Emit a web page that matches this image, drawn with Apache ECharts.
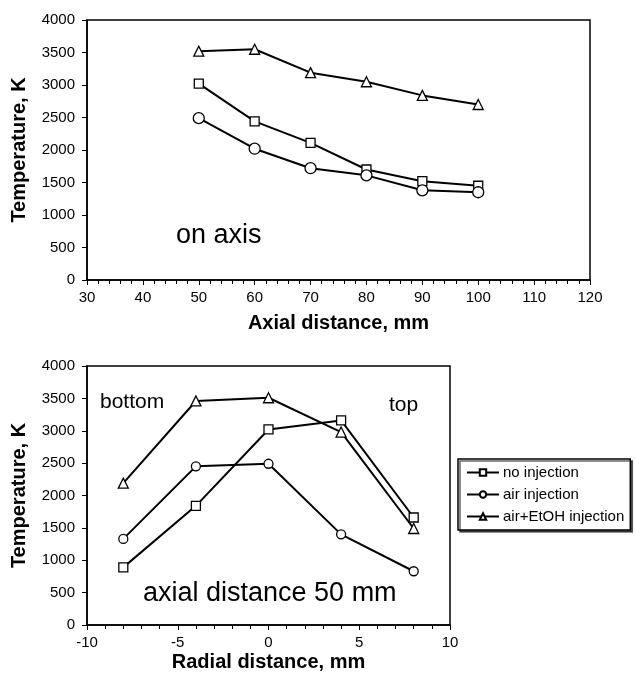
<!DOCTYPE html>
<html>
<head>
<meta charset="utf-8">
<script src="https://cdn.jsdelivr.net/npm/echarts@6/dist/echarts.min.js"></script>
<style>
  html, body { margin: 0; padding: 0; background: #fff; }
  #chart { width: 636px; height: 679px; }
</style>
</head>
<body>
<div id="chart"></div>
<script>
// Temperature profiles: along the axis (upper plot) and across the jet at 50 mm (lower plot)
const axialDist = [50, 60, 70, 80, 90, 100];
const axialNoInj = [3020, 2440, 2110, 1700, 1520, 1450];
const axialAirInj = [2490, 2020, 1720, 1610, 1380, 1350];
const axialEtOH = [3520, 3550, 3190, 3050, 2840, 2700];

const radialDist = [-8, -4, 0, 4, 8];
const radialNoInj = [890, 1840, 3020, 3160, 1660];
const radialAirInj = [1330, 2450, 2490, 1400, 830];
const radialEtOH = [2190, 3460, 3510, 2980, 1490];

const seriesNames = ['no injection', 'air injection', 'air+EtOH injection'];
const tempTicks = { min: 0, max: 4000, interval: 500 };

const FONT = '"Liberation Sans", Arial, sans-serif';
const chart = echarts.init(document.getElementById('chart'), null, { renderer: 'canvas' });

function pairs(xs, ys) { return xs.map((x, i) => [x, ys[i]]); }

function xAxisDef(gridIndex, min, max, interval, name, nameGap) {
  return {
    type: 'value', gridIndex, min, max, interval,
    name, nameLocation: 'middle', nameGap,
    nameTextStyle: { fontFamily: FONT, fontSize: 20, fontWeight: 'bold', color: '#000' },
    axisLine: { show: true, onZero: false, lineStyle: { color: '#000', width: 1.5 } },
    axisTick: { show: true, length: 5, lineStyle: { color: '#000', width: 1 } },
    minorTick: { show: true, splitNumber: 5, length: 4, lineStyle: { color: '#000', width: 1 } },
    axisLabel: { fontFamily: FONT, fontSize: 15, color: '#000', margin: 10, formatter: v => String(v) },
    splitLine: { show: false }
  };
}

function yAxisDef(gridIndex) {
  return {
    type: 'value', gridIndex, min: tempTicks.min, max: tempTicks.max, interval: tempTicks.interval,
    name: 'Temperature, K', nameLocation: 'middle', nameGap: 58,
    nameTextStyle: { fontFamily: FONT, fontSize: 20, fontWeight: 'bold', color: '#000' },
    axisLine: { show: true, onZero: false, lineStyle: { color: '#000', width: 1.5 } },
    axisTick: { show: true, length: 5, lineStyle: { color: '#000', width: 1 } },
    axisLabel: { fontFamily: FONT, fontSize: 15, color: '#000', margin: 12, formatter: v => String(v) },
    splitLine: { show: false }
  };
}

function lineSeries(name, idx, data, symbol, size) {
  return {
    name, type: 'line', xAxisIndex: idx, yAxisIndex: idx, data,
    symbol, symbolSize: size, showAllSymbol: true,
    lineStyle: { color: '#000', width: 2 },
    itemStyle: { color: '#fff', borderColor: '#000', borderWidth: 1.3 },
    emphasis: { disabled: true },
    animation: false, z: 3
  };
}

const option = {
  backgroundColor: '#fff',
  animation: false,
  grid: [
    { left: 87, top: 20, width: 503, height: 260, show: true, borderColor: '#000', borderWidth: 1.5, backgroundColor: 'transparent' },
    { left: 87, top: 366, width: 363, height: 259, show: true, borderColor: '#000', borderWidth: 1.5, backgroundColor: 'transparent' }
  ],
  xAxis: [
    xAxisDef(0, 30, 120, 10, 'Axial distance, mm', 33),
    xAxisDef(1, -10, 10, 5, 'Radial distance, mm', 27)
  ],
  yAxis: [yAxisDef(0), yAxisDef(1)],
  legend: {
    data: seriesNames,
    orient: 'vertical',
    left: 458, top: 459,
    padding: [6, 6, 6, 8],
    itemWidth: 32, itemHeight: 8, itemGap: 7,
    borderColor: '#000', borderWidth: 1.5,
    backgroundColor: '#fff',
    shadowColor: 'rgba(0,0,0,0.6)', shadowOffsetX: 2, shadowOffsetY: 2, shadowBlur: 0,
    textStyle: { fontFamily: FONT, fontSize: 15, color: '#000', padding: [0, 0, 0, -1] },
    selectedMode: false
  },
  graphic: [
    { type: 'text', left: 176, top: 222, style: { text: 'on axis', font: '27px ' + FONT, fill: '#000' } },
    { type: 'text', left: 143, top: 580, style: { text: 'axial distance 50 mm', font: '27px ' + FONT, fill: '#000' } },
    { type: 'text', left: 100, top: 392, style: { text: 'bottom', font: '21px ' + FONT, fill: '#000' } },
    { type: 'text', left: 389, top: 395, style: { text: 'top', font: '21px ' + FONT, fill: '#000' } }
  ],
  series: [
    lineSeries(seriesNames[0], 0, pairs(axialDist, axialNoInj), 'rect', 9),
    lineSeries(seriesNames[1], 0, pairs(axialDist, axialAirInj), 'circle', 11),
    lineSeries(seriesNames[2], 0, pairs(axialDist, axialEtOH), 'triangle', 10),
    lineSeries(seriesNames[0], 1, pairs(radialDist, radialNoInj), 'rect', 9),
    lineSeries(seriesNames[1], 1, pairs(radialDist, radialAirInj), 'circle', 9),
    lineSeries(seriesNames[2], 1, pairs(radialDist, radialEtOH), 'triangle', 10)
  ]
};

chart.setOption(option);
</script>
</body>
</html>
